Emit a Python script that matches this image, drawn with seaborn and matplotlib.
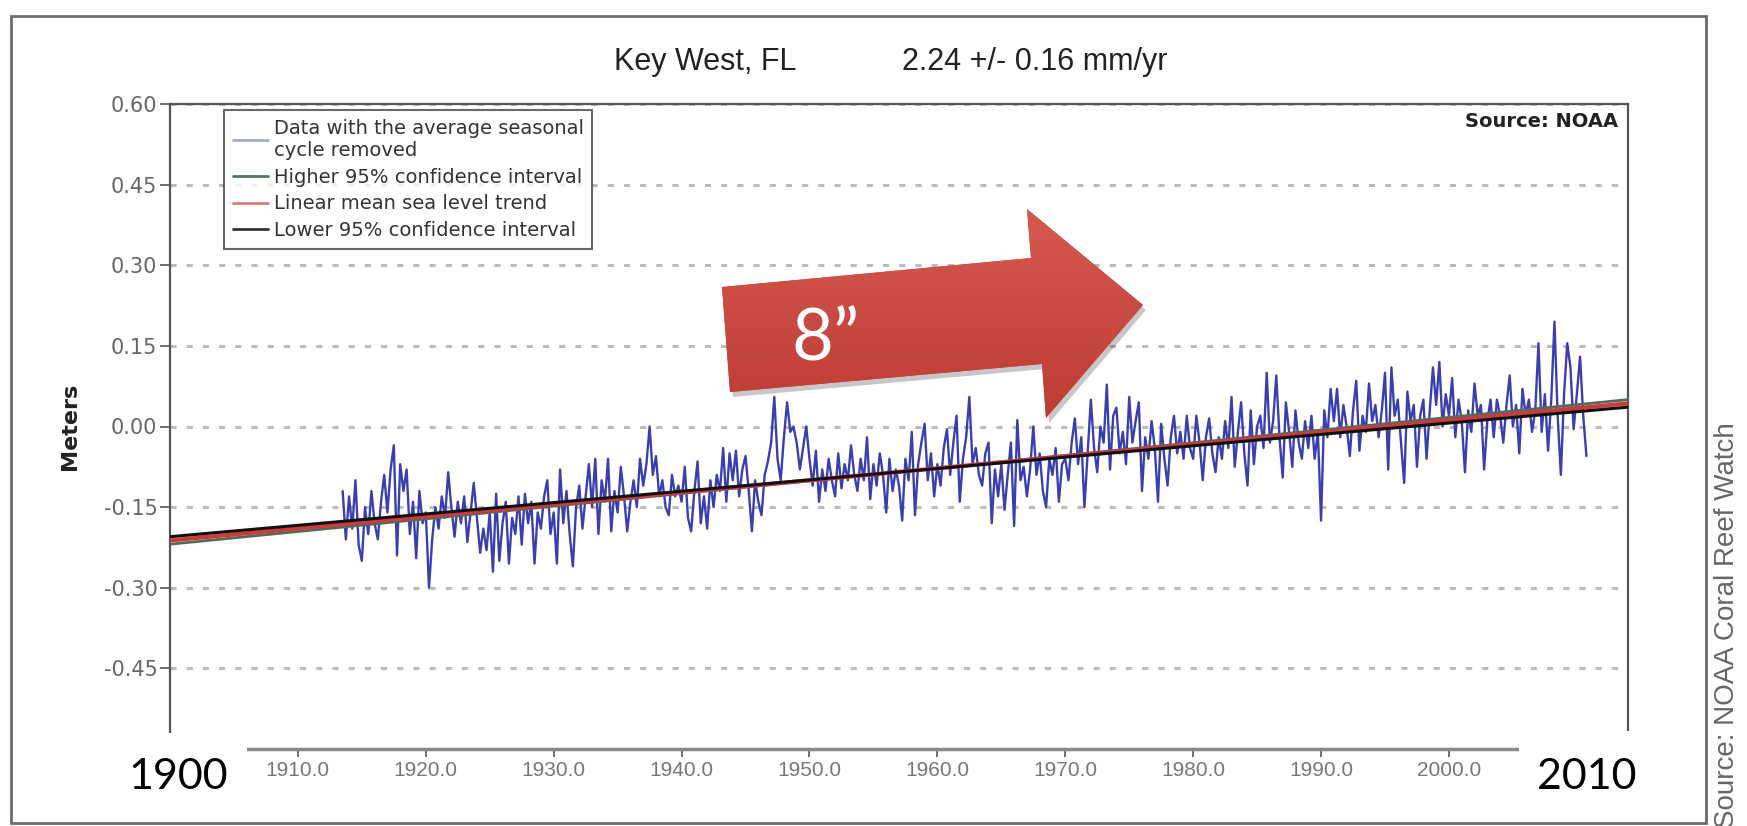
import matplotlib.pyplot as plt
import numpy as np
import pandas as pd
import seaborn as sns
from matplotlib.patches import Polygon, Rectangle
from matplotlib.lines import Line2D
from matplotlib.colors import LinearSegmentedColormap

start_year = 1913.5
step = 0.25
lvl_1910s = [-0.12, -0.21, -0.13, -0.19, -0.10, -0.22, -0.25, -0.15, -0.20, -0.12,
             -0.18, -0.21, -0.14, -0.09, -0.16, -0.08, -0.035, -0.24, -0.07, -0.12,
             -0.08, -0.20, -0.14, -0.245, -0.12, -0.18]
lvl_1920s = [-0.16, -0.30, -0.21, -0.15, -0.19, -0.13, -0.17, -0.085, -0.15, -0.205,
             -0.14, -0.18, -0.13, -0.215, -0.16, -0.105, -0.17, -0.235, -0.19, -0.23,
             -0.16, -0.27, -0.125, -0.25, -0.18, -0.14, -0.255, -0.17, -0.20, -0.13,
             -0.22, -0.125, -0.18, -0.14, -0.255, -0.16, -0.19, -0.13, -0.10, -0.20]
lvl_1930s = [-0.16, -0.255, -0.08, -0.18, -0.12, -0.20, -0.26, -0.15, -0.11, -0.19,
             -0.13, -0.07, -0.15, -0.06, -0.20, -0.10, -0.14, -0.06, -0.195, -0.12,
             -0.16, -0.075, -0.13, -0.195, -0.14, -0.10, -0.15, -0.06, -0.11, -0.07,
             0.00, -0.09, -0.055, -0.13, -0.10, -0.15, -0.165, -0.09, -0.13, -0.11]
lvl_1940s = [-0.14, -0.075, -0.17, -0.195, -0.12, -0.065, -0.18, -0.13, -0.19, -0.10,
             -0.15, -0.09, -0.12, -0.04, -0.14, -0.05, -0.10, -0.045, -0.13, -0.08,
             -0.055, -0.12, -0.195, -0.10, -0.14, -0.165, -0.09, -0.065, -0.03, 0.055,
             -0.06, -0.10, -0.02, 0.045, -0.01, 0.00, -0.03, -0.08, -0.04, 0.00]
lvl_1950s = [-0.06, -0.11, -0.045, -0.14, -0.08, -0.12, -0.06, -0.10, -0.13, -0.05,
             -0.115, -0.07, -0.10, -0.035, -0.09, -0.12, -0.06, -0.10, -0.02, -0.135,
             -0.07, -0.11, -0.05, -0.09, -0.16, -0.06, -0.12, -0.08, -0.11, -0.175,
             -0.06, -0.10, -0.01, -0.165, -0.07, -0.03, 0.005, -0.10, -0.05, -0.13]
lvl_1960s = [-0.07, -0.11, -0.04, -0.005, -0.09, -0.03, 0.02, -0.14, -0.06, -0.02,
             0.055, -0.07, -0.04, -0.09, -0.11, -0.05, -0.03, -0.18, -0.08, -0.13,
             -0.07, -0.155, -0.09, -0.03, -0.185, 0.012, -0.10, -0.075, -0.13, -0.08,
             0.00, -0.09, -0.05, -0.12, -0.15, -0.06, -0.09, -0.04, -0.14, -0.07]
lvl_1970s = [-0.06, -0.10, -0.03, 0.015, -0.07, -0.02, -0.15, -0.05, 0.05, -0.04,
             -0.085, 0.00, -0.03, 0.078, -0.08, 0.02, 0.035, -0.05, -0.01, -0.07,
             0.055, -0.03, 0.01, 0.045, -0.12, -0.02, -0.06, 0.01, -0.04, -0.14,
             0.005, -0.06, -0.11, -0.02, 0.02, -0.05, -0.01, -0.06, 0.02, -0.04]
lvl_1980s = [-0.06, 0.02, -0.03, -0.10, -0.02, 0.015, -0.05, -0.085, -0.02, -0.06,
             0.01, -0.04, 0.055, -0.075, -0.01, 0.045, -0.05, -0.11, 0.03, -0.07,
             0.00, 0.02, -0.04, 0.10, -0.03, 0.01, 0.095, -0.02, -0.095, 0.045,
             -0.01, -0.075, 0.03, -0.03, -0.06, 0.01, -0.04, 0.02, -0.06, -0.01]
lvl_1990s = [-0.175, 0.03, -0.02, 0.07, 0.01, 0.07, -0.02, 0.04, 0.00, -0.055,
             0.03, 0.085, -0.045, 0.02, -0.01, 0.08, 0.01, 0.04, -0.02, 0.03,
             0.10, -0.08, 0.11, 0.02, 0.05, -0.03, -0.105, 0.065, 0.01, 0.04,
             -0.075, 0.02, 0.05, -0.06, 0.03, 0.11, 0.04, 0.12, 0.00, 0.06]
lvl_2000s = [0.02, 0.09, -0.02, 0.05, 0.01, -0.085, 0.03, -0.01, 0.08, 0.02,
             0.04, -0.08, 0.01, 0.05, -0.02, 0.05, 0.02, -0.03, 0.04, 0.095,
             0.00, 0.04, -0.05, 0.07, 0.02, 0.05, -0.01, 0.03, 0.155, -0.01,
             0.06, -0.045, 0.05, 0.195, 0.02, -0.09, 0.06, 0.155, 0.11, -0.005,
             0.06, 0.13, 0.02, -0.055]

sea_level = (lvl_1910s + lvl_1920s + lvl_1930s + lvl_1940s + lvl_1950s
             + lvl_1960s + lvl_1970s + lvl_1980s + lvl_1990s + lvl_2000s)
years = start_year + step * np.arange(len(sea_level))

# linear trend and its 95% confidence lines (end points)
trend_years = [1900, 2014]
trend_mean = [-0.212, 0.043]
trend_upper = [-0.219, 0.050]
trend_lower = [-0.205, 0.036]

y_ticks = [-0.60, -0.45, -0.30, -0.15, 0.00, 0.15, 0.30, 0.45, 0.60]
x_ticks = [1900, 1910, 1920, 1930, 1940, 1950, 1960, 1970, 1980, 1990, 2000, 2010]
legend_labels = ['Data with the average seasonal\ncycle removed',
                 'Higher 95% confidence interval',
                 'Linear mean sea level trend',
                 'Lower 95% confidence interval']

W, H = 1747, 826
sns.set_style('white')
plt.rcParams['font.family'] = ['DejaVu Sans']

fig = plt.figure(figsize=(W / 100, H / 100), dpi=100)
fig.patch.set_facecolor('white')
ax = fig.add_axes([170 / W, 1 - 749 / H, (1628 - 170) / W, (749 - 104) / H])

data = pd.DataFrame({'Year': years, 'Meters': sea_level})
sns.lineplot(data=data, x='Year', y='Meters', ax=ax, color='#3a3fae', linewidth=1.7,
             estimator=None, sort=False, zorder=3)
trend = pd.DataFrame({'Year': trend_years, 'up': trend_upper, 'mean': trend_mean, 'low': trend_lower})
sns.lineplot(data=trend, x='Year', y='up', ax=ax, color='#556b5a', linewidth=2.0, zorder=4)
sns.lineplot(data=trend, x='Year', y='mean', ax=ax, color='#cc3b3b', linewidth=3.0, zorder=5)
sns.lineplot(data=trend, x='Year', y='low', ax=ax, color='#111111', linewidth=2.2, zorder=6)

# the first/last tick labels sit under the slide's white boxes
y_labels = ['%.2f' % v for v in y_ticks]
y_labels[0] = ''
x_labels = ['%.1f' % v for v in x_ticks]
x_labels[0] = ''
x_labels[-1] = ''

ax.set_xlim(1900, 2014)
ax.set_ylim(-0.60, 0.60)
ax.set_yticks(y_ticks)
ax.set_yticklabels(y_labels, fontsize=15, color='#666666')
ax.set_xticks(x_ticks)
ax.set_xticklabels(x_labels, fontsize=15, color='#777777',
                   family=['Liberation Sans', 'DejaVu Sans'])
ax.tick_params(axis='y', direction='out', length=7, width=1.2, color='#555555', pad=2, left=True)
ax.tick_params(axis='x', direction='out', length=6, width=1.2, color='#555555', pad=3, bottom=True)
ax.set_xlabel('')
ax.set_ylabel('Meters', fontsize=16, fontweight='bold', color='#222222')
ax.yaxis.set_label_coords((80 - 170) / (1628 - 170), 0.5)
ax.grid(axis='y', color='#bbbbbb', linestyle=(0, (2.0, 3.3)), linewidth=2.2)
ax.grid(axis='x', visible=False)
ax.set_axisbelow(True)
for side in ['left', 'top', 'right']:
    ax.spines[side].set_color('#555555')
    ax.spines[side].set_linewidth(1.6)
ax.spines['bottom'].set_color('#8a8a8a')
ax.spines['bottom'].set_linewidth(2.5)

handles = [Line2D([], [], color='#a4aac8', lw=2),
           Line2D([], [], color='#4a7a5a', lw=2),
           Line2D([], [], color='#e07b7b', lw=2),
           Line2D([], [], color='#333333', lw=2)]
leg = ax.legend(handles, legend_labels, loc='upper left',
                bbox_to_anchor=((224 - 170) / 1458, (749 - 110) / 645),
                borderaxespad=0, fontsize=14, frameon=True, fancybox=False,
                edgecolor='#444444', handlelength=1.8, handletextpad=0.3,
                borderpad=0.45, labelspacing=0.4)
leg.get_frame().set_linewidth(1.5)
for t in leg.get_texts():
    t.set_color('#333333')

ax.text(0.993, 0.988, 'Source: NOAA', transform=ax.transAxes, ha='right', va='top',
        fontsize=14, fontweight='bold', color='#222222')

# overlay in pixel coordinates
ov = fig.add_axes([0, 0, 1, 1], zorder=10)
ov.set_xlim(0, W)
ov.set_ylim(H, 0)
ov.axis('off')
ov.patch.set_alpha(0)

ov.add_patch(Rectangle((11, 16), 1706 - 11, 823 - 16, fill=False, edgecolor='#6a6a6a', lw=2))

ov.text(614, 62, 'Key West, FL', ha='left', va='center', fontsize=22, color='#222222',
        family=['Liberation Sans', 'DejaVu Sans'])
ov.text(902, 62, '2.24 +/- 0.16 mm/yr', ha='left', va='center', fontsize=22, color='#222222',
        family=['Liberation Sans', 'DejaVu Sans'])

arrow = [(722, 287), (1031, 258), (1027, 209), (1143, 305), (1046, 418), (1042, 364), (730, 392)]
shadow = Polygon([(x + 3, y + 5) for x, y in arrow], closed=True, facecolor=(0, 0, 0, 0.22),
                 edgecolor='none')
ov.add_patch(shadow)
body = Polygon(arrow, closed=True, facecolor='#c94a40', edgecolor='none')
ov.add_patch(body)
cmap = LinearSegmentedColormap.from_list('red', ['#d6594f', '#bd3c34'])
grad = ov.imshow(np.linspace(0, 1, 100).reshape(-1, 1), cmap=cmap, aspect='auto',
                 extent=[720, 1145, 420, 207], zorder=2)
grad.set_clip_path(body)
ov.set_xlim(0, W)
ov.set_ylim(H, 0)
ov.text(826, 340, '8\u201d', ha='center', va='center', fontsize=52, color='white',
        family=['Lato', 'DejaVu Sans'], zorder=3)

ov.add_patch(Rectangle((112, 733), 247 - 112, 822 - 733, facecolor='white', edgecolor='none'))
ov.add_patch(Rectangle((1519, 731), 1646 - 1519, 822 - 731, facecolor='white', edgecolor='none'))
ov.text(178, 777, '1900', ha='center', va='center', fontsize=31, color='black',
        family=['Lato', 'DejaVu Sans'])
ov.text(1587, 777, '2010', ha='center', va='center', fontsize=31, color='black',
        family=['Lato', 'DejaVu Sans'])

ov.text(1727, 828, 'Source: NOAA Coral Reef Watch', rotation=90, ha='center', va='bottom',
        fontsize=20, color='#666666', family=['Liberation Sans', 'DejaVu Sans'])

fig.savefig('out.png', dpi=100, facecolor='white')
